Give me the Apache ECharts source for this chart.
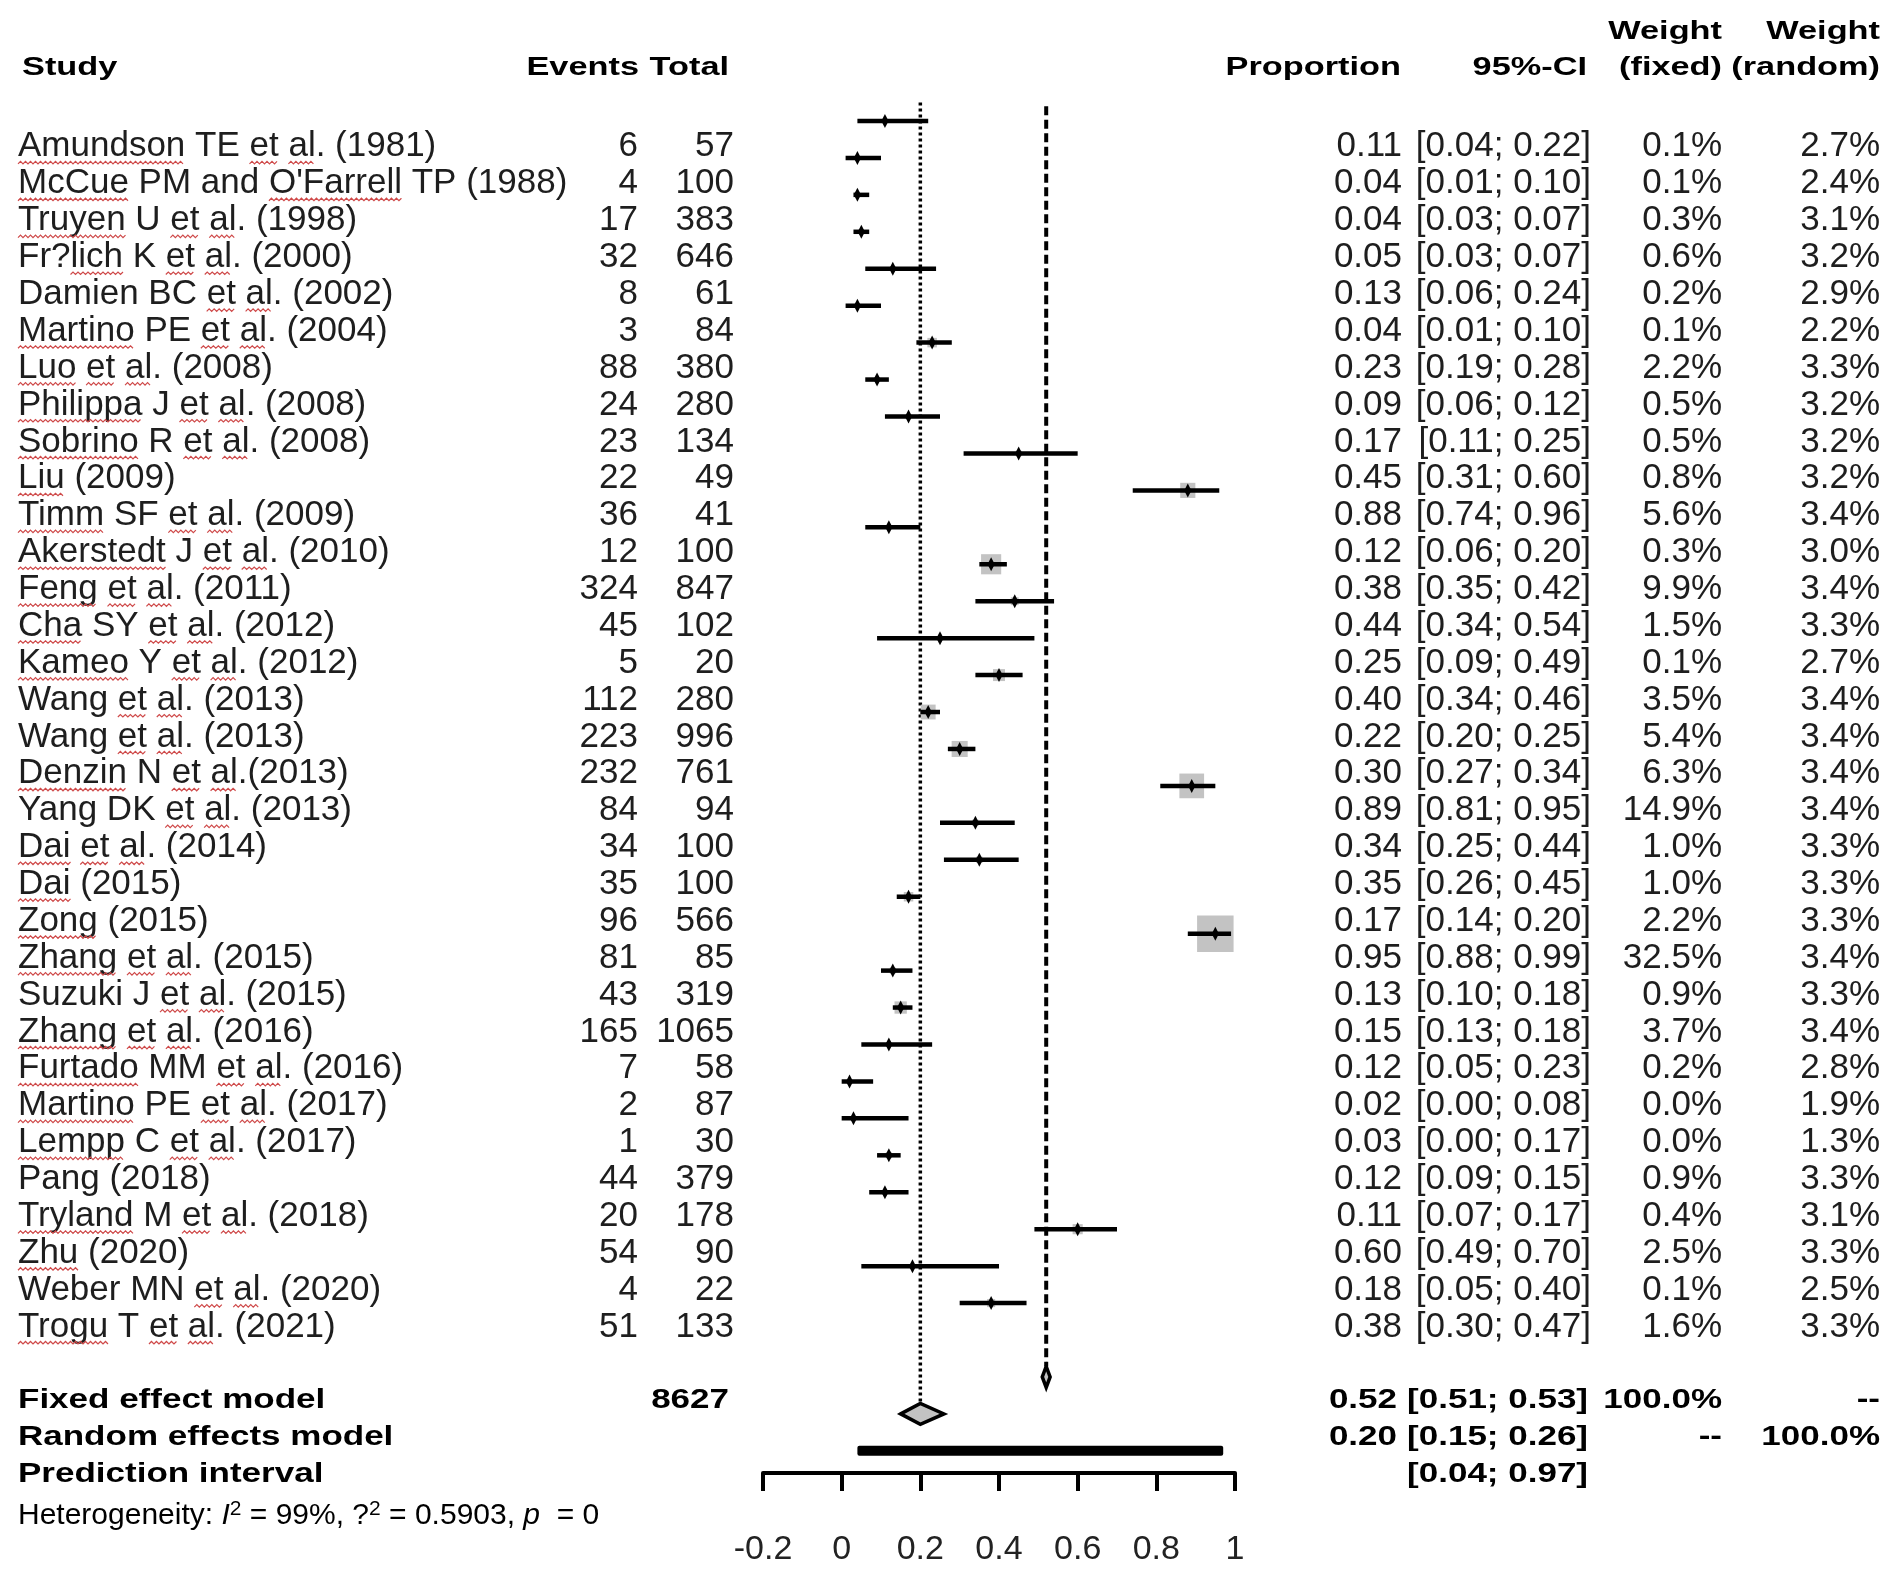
<!DOCTYPE html>
<html>
<head>
<meta charset="utf-8">
<title>Forest plot</title>
<script src="https://cdn.jsdelivr.net/npm/echarts/dist/echarts.min.js"></script>
<style>
  html, body { margin: 0; padding: 0; background: #fff; }
  #main { width: 1902px; height: 1575px; }
</style>
</head>
<body>
<div id="main"></div>
<script>
// study table, top to bottom
var studies = [
  'Amundson TE et al. (1981)', "McCue PM and O'Farrell TP (1988)", 'Truyen U et al. (1998)',
  'Fr?lich K et al. (2000)', 'Damien BC et al. (2002)', 'Martino PE et al. (2004)',
  'Luo et al. (2008)', 'Philippa J et al. (2008)', 'Sobrino R et al. (2008)', 'Liu (2009)',
  'Timm SF et al. (2009)', 'Akerstedt J et al. (2010)', 'Feng et al. (2011)',
  'Cha SY et al. (2012)', 'Kameo Y et al. (2012)', 'Wang et al. (2013)', 'Wang et al. (2013)',
  'Denzin N et al.(2013)', 'Yang DK et al. (2013)', 'Dai et al. (2014)', 'Dai (2015)',
  'Zong (2015)', 'Zhang et al. (2015)', 'Suzuki J et al. (2015)', 'Zhang et al. (2016)',
  'Furtado MM et al. (2016)', 'Martino PE et al. (2017)', 'Lempp C et al. (2017)',
  'Pang (2018)', 'Tryland M et al. (2018)', 'Zhu (2020)', 'Weber MN et al. (2020)',
  'Trogu T et al. (2021)'
];
var events = [6, 4, 17, 32, 8, 3, 88, 24, 23, 22, 36, 12, 324, 45, 5, 112, 223, 232, 84, 34, 35, 96, 81, 43, 165, 7, 2, 1, 44, 20, 54, 4, 51];
var totals = [57, 100, 383, 646, 61, 84, 380, 280, 134, 49, 41, 100, 847, 102, 20, 280, 996, 761, 94, 100, 100, 566, 85, 319, 1065, 58, 87, 30, 379, 178, 90, 22, 133];
var proportion = [0.11, 0.04, 0.04, 0.05, 0.13, 0.04, 0.23, 0.09, 0.17, 0.45, 0.88, 0.12, 0.38, 0.44, 0.25, 0.40, 0.22, 0.30, 0.89, 0.34, 0.35, 0.17, 0.95, 0.13, 0.15, 0.12, 0.02, 0.03, 0.12, 0.11, 0.60, 0.18, 0.38];
var ciLower = [0.04, 0.01, 0.03, 0.03, 0.06, 0.01, 0.19, 0.06, 0.11, 0.31, 0.74, 0.06, 0.35, 0.34, 0.09, 0.34, 0.20, 0.27, 0.81, 0.25, 0.26, 0.14, 0.88, 0.10, 0.13, 0.05, 0.00, 0.00, 0.09, 0.07, 0.49, 0.05, 0.30];
var ciUpper = [0.22, 0.10, 0.07, 0.07, 0.24, 0.10, 0.28, 0.12, 0.25, 0.60, 0.96, 0.20, 0.42, 0.54, 0.49, 0.46, 0.25, 0.34, 0.95, 0.44, 0.45, 0.20, 0.99, 0.18, 0.18, 0.23, 0.08, 0.17, 0.15, 0.17, 0.70, 0.40, 0.47];
var weightFixed = [0.1, 0.1, 0.3, 0.6, 0.2, 0.1, 2.2, 0.5, 0.5, 0.8, 5.6, 0.3, 9.9, 1.5, 0.1, 3.5, 5.4, 6.3, 14.9, 1.0, 1.0, 2.2, 32.5, 0.9, 3.7, 0.2, 0.0, 0.0, 0.9, 0.4, 2.5, 0.1, 1.6];
var weightRandom = [2.7, 2.4, 3.1, 3.2, 2.9, 2.2, 3.3, 3.2, 3.2, 3.2, 3.4, 3.0, 3.4, 3.3, 2.7, 3.4, 3.4, 3.4, 3.4, 3.3, 3.3, 3.3, 3.4, 3.3, 3.4, 2.8, 1.9, 1.3, 3.3, 3.1, 3.3, 2.5, 3.3];

// pooled rows: fixed, random, prediction interval
var pooledLabels = ['Fixed effect model', 'Random effects model', 'Prediction interval'];
var pooledEst = [0.52, 0.20, null];
var pooledLower = [0.51, 0.15, 0.04];
var pooledUpper = [0.53, 0.26, 0.97];
var pooledWFixed = [100.0, null, undefined];
var pooledWRandom = [null, 100.0, undefined];
var totalN = 8627;

var xTickLabels = ['-0.2', '0', '0.2', '0.4', '0.6', '0.8', '1'];

// words the word processor marked with a red wavy underline
var spellFlagged = ['Amundson', 'et', 'al', 'McCue', "O'Farrell", 'Truyen', 'lich', 'Martino', 'Luo',
  'Philippa', 'Sobrino', 'Liu', 'Timm', 'Akerstedt', 'Feng', 'Cha', 'Kameo', 'Denzin', 'Dai',
  'Zong', 'Zhang', 'Furtado', 'Lempp', 'Tryland', 'Zhu', 'Trogu'];

var FONT = '"Liberation Sans", Arial, Helvetica, sans-serif';
var ROW_FONT = 35;
var POOLED_ROW0 = studies.length + 1;   // blank row after the studies
var DIAMOND_H = 10.5;

var measureCtx = document.createElement('canvas').getContext('2d');
measureCtx.font = ROW_FONT + 'px ' + FONT;

function txt(text, x, y, o) {
  o = o || {};
  return {
    type: 'text', x: x, y: y, scaleX: o.sx || 1,
    style: {
      text: text, fill: o.color || '#1e1e1e',
      fontFamily: FONT, fontSize: o.size || ROW_FONT, fontWeight: o.bold ? 'bold' : 'normal',
      align: o.align || 'right', verticalAlign: 'middle',
      textAlign: o.align || 'right', textVerticalAlign: 'middle'
    }
  };
}

// red wavy underlines below flagged words of a left-aligned label
function squiggles(name, x, y) {
  var out = [];
  var re = /[A-Za-z']+/g, m;
  while ((m = re.exec(name)) !== null) {
    if (spellFlagged.indexOf(m[0]) < 0) continue;
    var x0 = x + measureCtx.measureText(name.slice(0, m.index)).width;
    var w = measureCtx.measureText(m[0]).width;
    var pts = [], k = 0;
    for (var px = x0; px <= x0 + w; px += 2.5, k++) pts.push([px, y + (k % 2 ? 14.5 : 17)]);
    out.push({ type: 'polyline', shape: { points: pts }, style: { stroke: '#cf4a4a', lineWidth: 1.2, fill: null } });
  }
  return out;
}

function ci(lo, hi) { return '[' + lo.toFixed(2) + '; ' + hi.toFixed(2) + ']'; }
function pct(w) { return w === null ? '--' : w.toFixed(1) + '%'; }

var chart = echarts.init(document.getElementById('main'));

var HEAD = { bold: true, size: 26, sx: 1.32, color: '#000' };
function head(o) { return Object.assign({}, HEAD, o || {}); }

var option = {
  backgroundColor: '#fff',
  animation: false,
  grid: [
    // forest panel
    { left: 763, top: 102.5, width: 472, height: 1370.5, outerBoundsMode: 'none' },
    // text table
    { left: 0, top: 128.4, width: 1902, height: 1401.4, outerBoundsMode: 'none' }
  ],
  xAxis: [
    {
      gridIndex: 0, type: 'value', min: -0.2, max: 1, interval: 0.2, position: 'bottom',
      axisLine: { show: true, onZero: false, lineStyle: { color: '#000', width: 4 } },
      axisTick: { show: true, inside: false, length: 18, lineStyle: { color: '#000', width: 4 } },
      axisLabel: {
        margin: 60, fontSize: 34, color: '#222', fontFamily: FONT,
        formatter: function (v) { return xTickLabels[Math.round((v + 0.2) / 0.2)]; }
      },
      splitLine: { show: false }
    },
    { gridIndex: 1, type: 'value', min: 0, max: 1902, show: false }
  ],
  yAxis: [
    { gridIndex: 0, type: 'value', inverse: true, min: -0.5, max: 36.6, show: false },
    { gridIndex: 1, type: 'value', inverse: true, min: -0.5, max: 37.5, show: false }
  ],
  graphic: [
    txt('Study', 22, 68, head({ align: 'left' })),
    txt('Events', 639, 68, head()),
    txt('Total', 729, 68, head()),
    txt('Proportion', 1401, 68, head()),
    txt('95%-CI', 1587, 68, head()),
    txt('Weight', 1722, 32, head()),
    txt('(fixed)', 1722, 68, head()),
    txt('Weight', 1880, 32, head()),
    txt('(random)', 1880, 68, head()),
    {
      type: 'text', x: 18, y: 1516,
      style: {
        text: '{n|Heterogeneity: }{i|I}{s|2}{n| = 99%, ?}{s|2}{n| = 0.5903, }{i|p}{n|  = 0}',
        verticalAlign: 'middle', textVerticalAlign: 'middle', align: 'left', textAlign: 'left',
        rich: {
          n: { fontFamily: FONT, fontSize: 30, color: '#222', lineHeight: 34 },
          i: { fontFamily: FONT, fontSize: 30, color: '#222', fontStyle: 'italic', lineHeight: 34 },
          s: { fontFamily: FONT, fontSize: 21, color: '#222', lineHeight: 34, verticalAlign: 'top' }
        }
      }
    }
  ],
  series: [
    // reference lines at the pooled estimates (random: dotted, fixed: dashed)
    {
      type: 'custom', xAxisIndex: 0, yAxisIndex: 0, silent: true,
      data: [[pooledEst[1], POOLED_ROW0 + 1, -0.5], [pooledEst[0], POOLED_ROW0, -0.4]],
      renderItem: function (params, api) {
        var top = api.coord([api.value(0), api.value(2)]);
        var bot = api.coord([api.value(0), api.value(1)]);
        var dotted = params.dataIndex === 0;
        return {
          type: 'line',
          shape: { x1: top[0], y1: top[1], x2: bot[0], y2: bot[1] - DIAMOND_H },
          style: { stroke: '#000', lineWidth: dotted ? 3.5 : 4, lineDash: dotted ? [3, 3] : [9, 4.5] }
        };
      }
    },
    // study squares, CI lines and point estimates
    {
      type: 'custom', xAxisIndex: 0, yAxisIndex: 0, silent: true,
      data: studies.map(function (s, i) { return [proportion[i], i, ciLower[i], ciUpper[i], weightFixed[i]]; }),
      renderItem: function (params, api) {
        var row = api.value(1);
        var p = api.coord([api.value(0), row]);
        var lo = api.coord([api.value(2), row]);
        var hi = api.coord([api.value(3), row]);
        var side = 6.4 * Math.sqrt(api.value(4));
        return {
          type: 'group',
          children: [
            { type: 'rect', shape: { x: p[0] - side / 2, y: p[1] - side / 2, width: side, height: side }, style: { fill: '#c3c3c3' } },
            { type: 'line', shape: { x1: lo[0], y1: lo[1], x2: hi[0], y2: hi[1] }, style: { stroke: '#000', lineWidth: 4.5 } },
            { type: 'polygon', shape: { points: [[p[0], p[1] - 7], [p[0] + 3.6, p[1]], [p[0], p[1] + 7], [p[0] - 3.6, p[1]]] }, style: { fill: '#000' } }
          ]
        };
      }
    },
    // pooled diamonds
    {
      type: 'custom', xAxisIndex: 0, yAxisIndex: 0, silent: true,
      data: [0, 1].map(function (k) { return [pooledEst[k], POOLED_ROW0 + k, pooledLower[k], pooledUpper[k]]; }),
      renderItem: function (params, api) {
        var row = api.value(1);
        var p = api.coord([api.value(0), row]);
        var lo = api.coord([api.value(2), row]);
        var hi = api.coord([api.value(3), row]);
        return {
          type: 'polygon',
          shape: { points: [[lo[0], p[1]], [p[0], p[1] - DIAMOND_H], [hi[0], p[1]], [p[0], p[1] + DIAMOND_H]] },
          style: { fill: '#c3c3c3', stroke: '#000', lineWidth: 3.5, lineJoin: 'miter' }
        };
      }
    },
    // prediction interval bar
    {
      type: 'custom', xAxisIndex: 0, yAxisIndex: 0, silent: true,
      data: [[pooledLower[2], POOLED_ROW0 + 2, pooledUpper[2]]],
      renderItem: function (params, api) {
        var lo = api.coord([api.value(0), api.value(1)]);
        var hi = api.coord([api.value(2), api.value(1)]);
        return {
          type: 'rect',
          shape: { x: lo[0], y: lo[1] - 5, width: hi[0] - lo[0], height: 10, r: 2 },
          style: { fill: '#000' }
        };
      }
    },
    // study text rows
    {
      type: 'custom', xAxisIndex: 1, yAxisIndex: 1, silent: true,
      data: studies.map(function (s, i) { return [0, i]; }),
      renderItem: function (params, api) {
        var i = params.dataIndex;
        var y = api.coord([0, api.value(1)])[1];
        return {
          type: 'group',
          children: [
            txt(studies[i], 18, y, { align: 'left' }),
            txt(String(events[i]), 638, y),
            txt(String(totals[i]), 734, y),
            txt(proportion[i].toFixed(2), 1402, y),
            txt(ci(ciLower[i], ciUpper[i]), 1591, y),
            txt(pct(weightFixed[i]), 1722, y),
            txt(pct(weightRandom[i]), 1880, y)
          ].concat(squiggles(studies[i], 18, y))
        };
      }
    },
    // pooled text rows
    {
      type: 'custom', xAxisIndex: 1, yAxisIndex: 1, silent: true,
      data: pooledLabels.map(function (s, k) { return [0, POOLED_ROW0 + k]; }),
      renderItem: function (params, api) {
        var k = params.dataIndex;
        var y = api.coord([0, api.value(1)])[1];
        var b = { bold: true, size: 28, sx: 1.25, color: '#000' };
        var kids = [
          txt(pooledLabels[k], 18, y, Object.assign({}, b, { align: 'left' })),
          txt(ci(pooledLower[k], pooledUpper[k]), 1588, y, b)
        ];
        if (k === 0) kids.push(txt(String(totalN), 729, y, b));
        if (pooledEst[k] !== null) kids.push(txt(pooledEst[k].toFixed(2), 1397, y, b));
        if (pooledWFixed[k] !== undefined) kids.push(txt(pct(pooledWFixed[k]), 1722, y, b));
        if (pooledWRandom[k] !== undefined) kids.push(txt(pct(pooledWRandom[k]), 1880, y, b));
        return { type: 'group', children: kids };
      }
    }
  ]
};

chart.setOption(option);
</script>
</body>
</html>
